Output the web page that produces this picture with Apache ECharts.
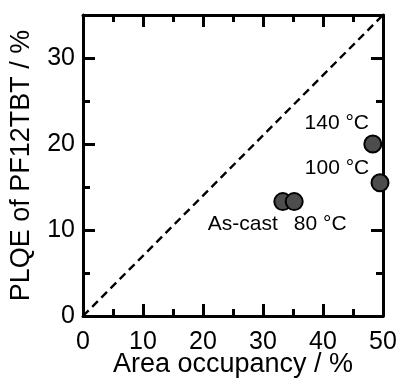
<!DOCTYPE html>
<html>
<head>
<meta charset="utf-8">
<script src="https://cdn.jsdelivr.net/npm/echarts@6/dist/echarts.min.js"></script>
<style>
html, body { margin: 0; padding: 0; background: #fff; }
#main { width: 401px; height: 385px; }
</style>
</head>
<body>
<div id="main"></div>
<script>
// sample names and measured values
var sampleNames = ['As-cast', '80 °C', '100 °C', '140 °C'];
var areaOccupancy = [33.3, 35.2, 49.5, 48.3];
var plqe = [13.3, 13.3, 15.5, 20.0];
// reference line end points (x, y)
var refLineX = [0, 50];
var refLineY = [0, 35];

// label placement per sample, relative to the marker
var labelOffsets = {
    'As-cast': [-40, 23],
    '80 °C': [26, 23],
    '100 °C': [-43, -14],
    '140 °C': [-36, -21]
};

var font = "'Liberation Sans', Arial, sans-serif";
var chart = echarts.init(document.getElementById('main'));

var points = [];
for (var i = 0; i < sampleNames.length; i++) {
    points.push({
        name: sampleNames[i],
        value: [areaOccupancy[i], plqe[i]],
        label: {offset: labelOffsets[sampleNames[i]]}
    });
}
var refLine = [];
for (var j = 0; j < refLineX.length; j++) {
    refLine.push([refLineX[j], refLineY[j]]);
}

function axisBase(extra, labelExtra) {
    var a = {
        type: 'value',
        axisLine: {show: true, onZero: false, lineStyle: {color: '#000', width: 3}},
        axisTick: {show: true, inside: true, length: 12, lineStyle: {color: '#000', width: 3}},
        minorTick: {show: true, splitNumber: 2, length: 7, lineStyle: {color: '#000', width: 3}},
        splitLine: {show: false},
        axisLabel: {show: true, color: '#000', fontSize: 25, fontFamily: font, margin: 8}
    };
    for (var k in extra) a[k] = extra[k];
    for (var m in labelExtra) a.axisLabel[m] = labelExtra[m];
    return a;
}

var option = {
    animation: false,
    backgroundColor: '#fff',
    grid: {left: 83, right: 18, top: 15, bottom: 69, outerBoundsMode: 'none', containLabel: false},
    xAxis: [
        axisBase({
            min: 0, max: 50, interval: 10, position: 'bottom',
            name: 'Area occupancy / %', nameLocation: 'middle', nameGap: 35,
            nameMoveOverlap: false,
            nameTextStyle: {color: '#000', fontSize: 27, fontFamily: font}
        }, {margin: 14}),
        axisBase({min: 0, max: 50, interval: 10, position: 'top'}, {show: false})
    ],
    yAxis: [
        axisBase({
            min: 0, max: 35, interval: 10, position: 'left',
            name: 'PLQE of PF12TBT / %', nameLocation: 'middle', nameGap: 48,
            nameMoveOverlap: false,
            nameTextStyle: {color: '#000', fontSize: 27, fontFamily: font}
        }, {showMaxLabel: false}),
        axisBase({min: 0, max: 35, interval: 10, position: 'right'}, {show: false})
    ],
    series: [
        {
            type: 'line',
            data: refLine,
            symbol: 'none',
            silent: true,
            lineStyle: {color: '#000', width: 2.4, type: [8, 5]}
        },
        {
            type: 'scatter',
            data: points,
            symbol: 'circle',
            symbolSize: 17,
            itemStyle: {color: '#4d4d4d', borderColor: '#000', borderWidth: 2, opacity: 1},
            label: {
                show: true,
                position: 'inside',
                formatter: '{b}',
                color: '#000',
                fontSize: 21,
                fontFamily: font
            }
        }
    ]
};
chart.setOption(option);
</script>
</body>
</html>
